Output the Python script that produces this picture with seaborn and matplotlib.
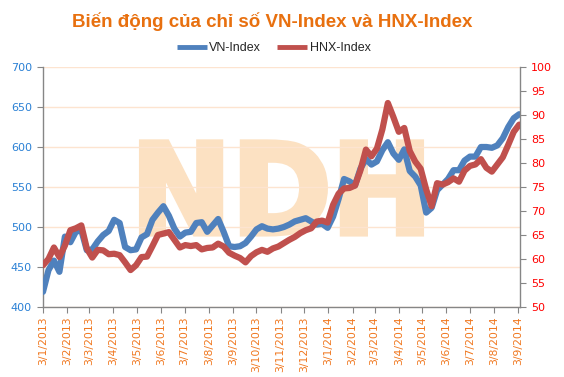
import matplotlib
matplotlib.use("Agg")
import matplotlib.pyplot as plt
from matplotlib.lines import Line2D
from matplotlib.textpath import TextPath
from matplotlib.patches import PathPatch
from matplotlib.font_manager import FontProperties
import matplotlib.transforms as mtransforms
import seaborn as sns
import pandas as pd

# ---- data (weekly samples) ----
start_date = "2013-01-03"
vn_index = [419, 446, 458, 444, 488, 481, 494, 496, 471, 472,
            482, 490, 495, 509, 505, 475, 471, 472, 487, 491,
            509, 518, 526, 514, 498, 488, 493, 494, 505, 506,
            494, 502, 510, 494, 476, 475, 476, 480, 488, 497,
            501, 498, 497, 498, 500, 503, 507, 509, 511, 507,
            503, 504, 499, 513, 535, 560, 557, 552, 573, 585,
            578, 582, 596, 606, 592, 584, 597, 570, 563, 552,
            518, 524, 546, 553, 560, 571, 571, 583, 588, 588,
            600, 600, 599, 602, 611, 625, 636, 641]
hnx_index = [58.7, 60.0, 62.4, 60.4, 62.8, 66.0, 66.4, 67.0, 62.2, 60.3,
             61.9, 61.8, 61.0, 61.1, 60.8, 59.3, 57.7, 58.7, 60.4, 60.5,
             62.7, 65.0, 65.3, 65.6, 64.0, 62.4, 62.9, 62.7, 62.9, 62.0,
             62.3, 62.4, 63.2, 62.6, 61.3, 60.7, 60.2, 59.3, 60.6, 61.4,
             61.9, 61.5, 62.2, 62.6, 63.3, 64.0, 64.6, 65.4, 66.0, 66.4,
             67.8, 68.0, 67.6, 71.3, 73.6, 74.7, 74.8, 75.3, 78.5, 82.8,
             81.4, 83.0, 87.0, 92.5, 89.6, 86.5, 87.3, 82.5, 80.3, 78.8,
             74.5, 71.0, 75.8, 75.5, 76.0, 76.8, 76.1, 78.4, 79.4, 79.7,
             80.8, 79.0, 78.2, 79.7, 81.2, 83.8, 86.5, 88.0]
tick_dates = ["2013-01-03", "2013-02-03", "2013-03-03", "2013-04-03", "2013-05-03",
              "2013-06-03", "2013-07-03", "2013-08-03", "2013-09-03", "2013-10-03",
              "2013-11-03", "2013-12-03", "2014-01-03", "2014-02-03", "2014-03-03",
              "2014-04-03", "2014-05-03", "2014-06-03", "2014-07-03", "2014-08-03",
              "2014-09-03"]
tick_labels = ["3/1/2013", "3/2/2013", "3/3/2013", "3/4/2013", "3/5/2013",
               "3/6/2013", "3/7/2013", "3/8/2013", "3/9/2013", "3/10/2013",
               "3/11/2013", "3/12/2013", "3/1/2014", "3/2/2014", "3/3/2014",
               "3/4/2014", "3/5/2014", "3/6/2014", "3/7/2014", "3/8/2014",
               "3/9/2014"]
left_ticks = [400, 450, 500, 550, 600, 650, 700]
right_ticks = [50, 55, 60, 65, 70, 75, 80, 85, 90, 95, 100]

title = "Biến động của chỉ số VN-Index và HNX-Index"
watermark = "NDH"
vn_color = "#4F81BD"
hnx_color = "#C0504D"

sns.set_theme(style="white")
plt.rcParams['font.family'] = ['DejaVu Sans']

dates = pd.date_range(start_date, periods=len(vn_index), freq="7D")
df = pd.DataFrame({"date": dates, "VN-Index": vn_index, "HNX-Index": hnx_index})

fig = plt.figure(figsize=(5.64, 3.77), dpi=100)
ax = fig.add_axes([43 / 564, 70 / 377, 477 / 564, 240 / 377])
ax2 = ax.twinx()

# watermark logo text, fitted into its box (axes fractions)
tp = TextPath((0, 0), watermark, size=1, prop=FontProperties(family="DejaVu Sans", weight="bold"))
bb = tp.get_extents()
x0, x1, y0, y1 = 0.207, 0.793, 0.305, 0.687
tr = (mtransforms.Affine2D().translate(-bb.x0, -bb.y0)
      .scale((x1 - x0) / bb.width, (y1 - y0) / bb.height).translate(x0, y0)) + ax.transAxes
ax.add_patch(PathPatch(tp, transform=tr, facecolor="#FCE1C2", edgecolor="#FCE1C2",
                       linewidth=4, joinstyle="miter", zorder=0.3))

sns.lineplot(data=df, x="date", y="VN-Index", ax=ax, color=vn_color, lw=4.5, zorder=3)
sns.lineplot(data=df, x="date", y="HNX-Index", ax=ax2, color=hnx_color, lw=4.5, zorder=3)

ax.set_xlim(pd.Timestamp("2013-01-03"), pd.Timestamp("2014-09-05"))
ax.set_ylim(400, 700)
ax2.set_ylim(50, 100)

ax.set_yticks(left_ticks)
ax2.set_yticks(right_ticks)
ax.set_xticks(pd.to_datetime(tick_dates))
ax.set_xticklabels(tick_labels, rotation=90, color="#F07820", fontsize=7.8)
ax.tick_params(axis="y", colors="#2A80D5", labelsize=8)
ax2.tick_params(axis="y", colors="#FF0000", labelsize=8)
for a in (ax, ax2):
    a.tick_params(axis="both", which="major", length=4, width=0.8, direction="out")
    a.set_xlabel("")
    a.set_ylabel("")
ax.tick_params(axis="y", color="#868686", left=True, pad=4)
ax2.tick_params(axis="y", color="#868686", right=True, pad=4)
ax.tick_params(axis="x", color="#868686", bottom=True, pad=3)
for lbl in ax.get_yticklabels():
    lbl.set_color("#2A80D5")
for lbl in ax2.get_yticklabels():
    lbl.set_color("#FF0000")

ax.set_axisbelow(True)
ax.yaxis.grid(True, color="#FDE4D0", lw=1, zorder=0.5)
ax.xaxis.grid(False)
ax2.grid(False)

for a in (ax, ax2):
    a.spines["top"].set_visible(False)
    for s in ("left", "right", "bottom"):
        a.spines[s].set_color("#868686")
        a.spines[s].set_linewidth(1)
ax.spines["right"].set_visible(False)
ax2.spines["left"].set_visible(False)
ax2.spines["bottom"].set_visible(False)

fig.text(0.482, 1 - 26.7 / 377, title, ha="center", va="baseline", fontsize=13.5,
         fontweight="bold", family=["Liberation Sans", "DejaVu Sans"], color="#E8700F")

handles = [Line2D([0], [0], color=vn_color, lw=3.5, solid_capstyle="butt"),
           Line2D([0], [0], color=hnx_color, lw=3.5, solid_capstyle="butt")]
fig.legend(handles, ["VN-Index", "HNX-Index"], loc="center", bbox_to_anchor=(0.485, 1 - 48 / 377),
           ncol=2, frameon=False, handlelength=2.4, handletextpad=0.2, columnspacing=1.3,
           prop={"family": "Liberation Sans", "size": 9})

fig.savefig("out.png", dpi=100)
